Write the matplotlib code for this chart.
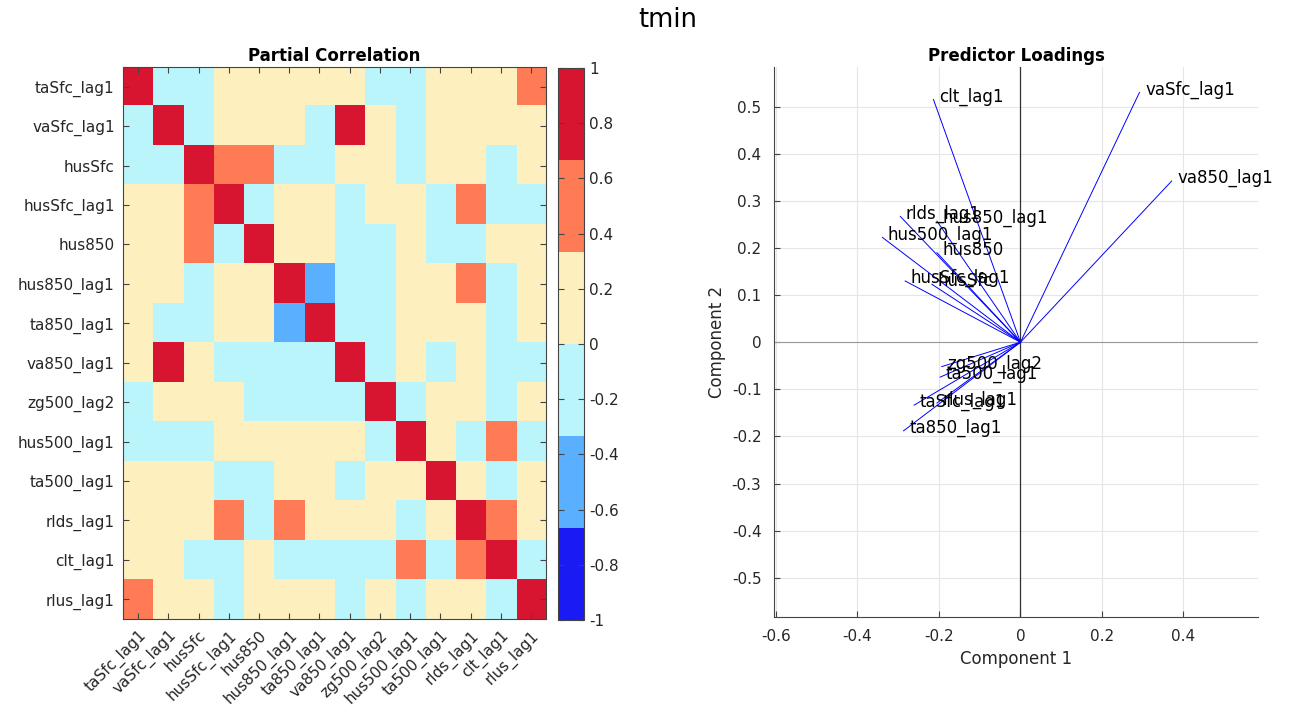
import numpy as np
import matplotlib
matplotlib.use('Agg')
import matplotlib.pyplot as plt
from matplotlib.colors import ListedColormap, BoundaryNorm

names = ['taSfc_lag1', 'vaSfc_lag1', 'husSfc', 'husSfc_lag1', 'hus850', 'hus850_lag1',
         'ta850_lag1', 'va850_lag1', 'zg500_lag2', 'hus500_lag1', 'ta500_lag1',
         'rlds_lag1', 'clt_lag1', 'rlus_lag1']

# partial correlation (bin midpoints)
pcorr = np.array([
    [ .85, -.15, -.15,  .15,  .15,  .15,  .15,  .15, -.15, -.15,  .15,  .15,  .15,  .50],
    [-.15,  .85, -.15,  .15,  .15,  .15, -.15,  .85,  .15, -.15,  .15,  .15,  .15,  .15],
    [-.15, -.15,  .85,  .50,  .50, -.15, -.15,  .15,  .15, -.15,  .15,  .15, -.15,  .15],
    [ .15,  .15,  .50,  .85, -.15,  .15,  .15, -.15,  .15,  .15, -.15,  .50, -.15, -.15],
    [ .15,  .15,  .50, -.15,  .85,  .15,  .15, -.15, -.15,  .15, -.15, -.15,  .15,  .15],
    [ .15,  .15, -.15,  .15,  .15,  .85, -.50, -.15, -.15,  .15,  .15,  .50, -.15,  .15],
    [ .15, -.15, -.15,  .15,  .15, -.50,  .85, -.15, -.15,  .15,  .15,  .15, -.15,  .15],
    [ .15,  .85,  .15, -.15, -.15, -.15, -.15,  .85, -.15,  .15, -.15,  .15, -.15, -.15],
    [-.15,  .15,  .15,  .15, -.15, -.15, -.15, -.15,  .85, -.15,  .15,  .15, -.15,  .15],
    [-.15, -.15, -.15,  .15,  .15,  .15,  .15,  .15, -.15,  .85,  .15, -.15,  .50, -.15],
    [ .15,  .15,  .15, -.15, -.15,  .15,  .15, -.15,  .15,  .15,  .85,  .15, -.15,  .15],
    [ .15,  .15,  .15,  .50, -.15,  .50,  .15,  .15,  .15, -.15,  .15,  .85,  .50,  .15],
    [ .15,  .15, -.15, -.15,  .15, -.15, -.15, -.15, -.15,  .50, -.15,  .50,  .85, -.15],
    [ .50,  .15,  .15, -.15,  .15,  .15,  .15, -.15,  .15, -.15,  .15,  .15, -.15,  .85],
])

# loadings on the first two components
comp1 = [-0.261, 0.292, -0.2175, -0.283, -0.205, -0.205, -0.287, 0.371, -0.193,
         -0.339, -0.197, -0.295, -0.2135, -0.205]
comp2 = [-0.1335, 0.530, 0.123, 0.130, 0.19, 0.257, -0.188, 0.342, -0.0517,
         0.2225, -0.074, 0.267, 0.515, -0.129]

bin_colors = ['#1A1AF5', '#5AAFFF', '#BBF5FC', '#FDEFBE', '#FF7B55', '#D71530']
cbar_ticks = np.round(np.arange(-1, 1.01, 0.2), 1) + 0.0

def fmt(v):
    v = round(float(v), 1)
    return '0' if v == 0 else '%g' % v

tick_col = '#262626'
fig = plt.figure(figsize=(12.94, 7.09), dpi=100)
fig.suptitle('tmin', fontsize=18.5, x=0.516, y=0.99)

# ---- heatmap ----
ax = fig.add_axes([0.0951, 0.1269, 0.3269, 0.7786])
cmap = ListedColormap(bin_colors)
norm = BoundaryNorm(np.linspace(-1, 1, 7), cmap.N)
im = ax.imshow(pcorr, cmap=cmap, norm=norm, aspect='auto', interpolation='nearest')
ax.set_xticks(range(len(names)))
ax.set_yticks(range(len(names)))
ax.set_xticklabels(names, rotation=45, ha='right', rotation_mode='anchor', fontsize=11, color=tick_col)
ax.set_yticklabels(names, fontsize=11, color=tick_col)
ax.tick_params(direction='in', length=4, top=True, right=True, color='#444444', pad=6)
for s in ax.spines.values():
    s.set_color('#444444')
ax.set_title('Partial Correlation', fontsize=12, fontweight='bold', pad=4)

cax = fig.add_axes([0.4312, 0.1255, 0.0201, 0.7786])
cb = fig.colorbar(im, cax=cax, ticks=cbar_ticks)
cb.ax.set_yticklabels([fmt(t) for t in cbar_ticks], fontsize=11, color=tick_col)
cb.ax.tick_params(direction='in', length=4, left=True, right=True, color='#444444')
cb.outline.set_edgecolor('#444444')
cb.ax.minorticks_off()

# ---- biplot ----
bx = fig.add_axes([0.5981, 0.1298, 0.3741, 0.7757])
bx.set_xlim(-0.605, 0.583)
bx.set_ylim(-0.583, 0.584)
xt = [-0.6, -0.4, -0.2, 0, 0.2, 0.4]
bx.set_xticks(xt)
bx.set_xticklabels([fmt(v) for v in xt])
yt = np.round(np.arange(-0.5, 0.51, 0.1), 1)
bx.set_yticks(yt)
bx.set_yticklabels([fmt(v) for v in yt])
bx.grid(True, color='#e6e6e6', linewidth=0.8)
bx.set_axisbelow(True)
bx.axhline(0, color='#999999', linewidth=0.8)
bx.axvline(0, color='#333333', linewidth=0.9)
for x, y, nm in zip(comp1, comp2, names):
    bx.plot([0, x], [0, y], color='#0000FF', linewidth=0.7)
    bx.annotate(nm, (x, y), xytext=(4, 2), textcoords='offset points',
                ha='left', va='center', fontsize=12)
bx.spines['top'].set_visible(False)
bx.spines['right'].set_visible(False)
bx.spines['left'].set_color('#444444')
bx.spines['bottom'].set_color('#444444')
bx.tick_params(direction='in', length=4, labelsize=11, labelcolor=tick_col, color='#444444', pad=9)
bx.set_xlabel('Component 1', fontsize=12, color=tick_col)
bx.set_ylabel('Component 2', fontsize=12, color=tick_col)
bx.set_title('Predictor Loadings', fontsize=12, fontweight='bold', pad=4)

fig.savefig('out.png', dpi=100)
